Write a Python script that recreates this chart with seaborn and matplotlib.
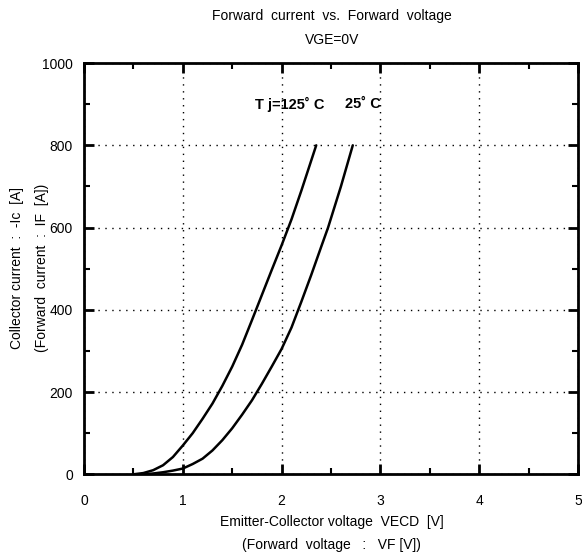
import pandas as pd
import matplotlib
matplotlib.use("Agg")
import matplotlib.pyplot as plt
import seaborn as sns
from matplotlib.ticker import MultipleLocator

# (VF in V, IF in A)
v_125 = [0.5, 0.6, 0.7, 0.8, 0.9, 1.0, 1.1, 1.2, 1.3, 1.4, 1.5, 1.6, 1.7, 1.8, 1.9, 2.0, 2.1, 2.2, 2.35]
i_125 = [0, 3, 10, 22, 42, 70, 100, 135, 172, 215, 262, 315, 375, 436, 497, 557, 620, 690, 800]
v_25 = [0.6, 0.7, 0.8, 0.9, 1.0, 1.1, 1.2, 1.3, 1.4, 1.5, 1.6, 1.7, 1.8, 1.9, 2.0, 2.1, 2.2, 2.3, 2.4, 2.47, 2.6, 2.72]
i_25 = [0, 2, 5, 9, 14, 25, 38, 58, 83, 112, 145, 180, 220, 262, 305, 357, 420, 485, 553, 600, 700, 800]

sns.set_style("ticks")
plt.rcParams['font.family'] = ['Liberation Sans', 'DejaVu Sans']
plt.rcParams['text.color'] = 'black'
plt.rcParams['xtick.color'] = 'black'
plt.rcParams['ytick.color'] = 'black'

df = pd.concat([
    pd.DataFrame({'VF': v_125, 'IF': i_125, 'Tj': '125'}),
    pd.DataFrame({'VF': v_25, 'IF': i_25, 'Tj': '25'}),
])

fig = plt.figure(figsize=(5.82, 5.58), dpi=100)
ax = fig.add_axes([0.1443, 0.150, 0.849, 0.737])

sns.lineplot(data=df, x='VF', y='IF', units='Tj', estimator=None, sort=False,
             color='black', linewidth=1.8, ax=ax)

ax.set_xlim(0, 5)
ax.set_ylim(0, 1000)
ax.xaxis.set_major_locator(MultipleLocator(1))
ax.xaxis.set_minor_locator(MultipleLocator(0.5))
ax.yaxis.set_major_locator(MultipleLocator(200))
ax.yaxis.set_minor_locator(MultipleLocator(100))
ax.tick_params(which='both', direction='in', top=True, right=True, color='black')
ax.tick_params(which='major', length=7, width=2, labelsize=10)
ax.tick_params(axis='x', which='major', pad=14)
ax.tick_params(axis='y', which='major', pad=8)
ax.tick_params(which='minor', length=4, width=1.5)
ax.grid(True, which='major', color='black', linestyle=(0, (1, 4)), linewidth=1)
for s in ax.spines.values():
    s.set_linewidth(2)
    s.set_color('black')

ax.set_xlabel('')
ax.set_ylabel('')

# temperature labels
ax.text(2.08, 900, 'T j=125˚ C', ha='center', va='center', fontsize=10.5, fontweight='bold')
ax.text(2.82, 900, '25˚ C', ha='center', va='center', fontsize=10.5, fontweight='bold')

fig.text(0.57, 0.972, 'Forward  current  vs.  Forward  voltage', ha='center', va='center', fontsize=10)
fig.text(0.57, 0.928, 'VGE=0V', ha='center', va='center', fontsize=10)
fig.text(0.57, 0.064, 'Emitter-Collector voltage  VECD  [V]', ha='center', va='center', fontsize=10)
fig.text(0.57, 0.024, '(Forward  voltage   :   VF [V])', ha='center', va='center', fontsize=10)
fig.text(0.030, 0.52, 'Collector current  :  -Ic  [A]', rotation=90, ha='center', va='center', fontsize=10)
fig.text(0.072, 0.52, '(Forward  current  :  IF  [A])', rotation=90, ha='center', va='center', fontsize=10)

fig.savefig('out.png', dpi=100)
